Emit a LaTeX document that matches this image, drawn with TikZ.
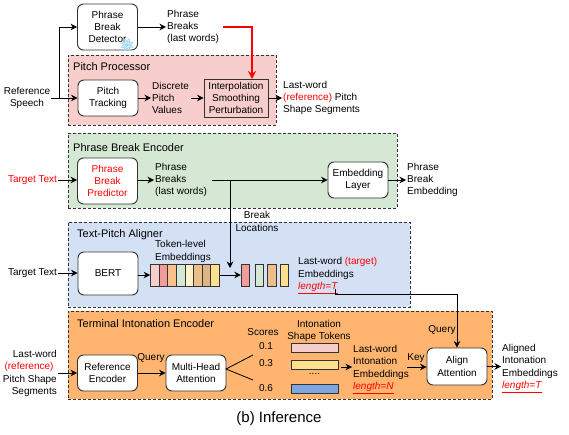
\documentclass[tikz,border=0pt]{standalone}
\usepackage{fontspec}
\setmainfont{Liberation Sans}
\usepackage{xcolor}
\usetikzlibrary{arrows.meta,positioning}
\definecolor{softred}{HTML}{F8CECC}
\definecolor{softgreen}{HTML}{D5E8D4}
\definecolor{softblue}{HTML}{D4E1F5}
\definecolor{softorange}{HTML}{FFB570}
\definecolor{softyellow}{HTML}{FFF2CC}
\definecolor{tokred}{HTML}{F19C99}
\definecolor{tokorange}{HTML}{F9C08C}
\definecolor{tokbrown}{HTML}{EBBE8C}
\definecolor{tokdark}{HTML}{E0B585}
\definecolor{tokyellow}{HTML}{FFE08C}
\definecolor{tokblue}{HTML}{7EA6E0}
\definecolor{frost}{HTML}{A5D8F5}
\definecolor{linegray}{HTML}{333333}
\newcommand{\lenlabel}[1]{\textcolor{red}{\underline{\textit{length=#1}}}}
\tikzset{
  every node/.style={font=\fontsize{10}{12.4}\selectfont},
  panel/.style={draw=linegray, dash pattern=on 3pt off 2pt, line width=.8pt, minimum width=#1, inner sep=0pt},
  blk/.style={draw=linegray, rounded corners=6pt, line width=.9pt, fill=white, align=center, inner sep=0pt, minimum width=60pt},
  sqblk/.style={draw=linegray, line width=.9pt, fill=softred, align=center, inner sep=0pt, minimum width=64pt, minimum height=38pt},
  lbl/.style={align=left, anchor=west, inner sep=1pt},
  ttl/.style={anchor=west, inner sep=0pt, font=\fontsize{11}{13}\selectfont},
  txt/.style={align=center, inner sep=1pt},
  cell/.style={draw=linegray, line width=.7pt, minimum width=8.6pt, minimum height=22pt, inner sep=0pt},
  bar/.style={draw=linegray, line width=.7pt, minimum width=47pt, minimum height=9pt, inner sep=0pt},
  ar/.style={-{Stealth[length=6.5pt,width=6.5pt]}, line width=.8pt, draw=black},
  redar/.style={line width=1.1pt, draw=red, -{Stealth[length=8pt,width=8pt,red]}},
  plainline/.style={line width=.8pt, draw=black},
}
\begin{document}
\begin{tikzpicture}[x=1pt,y=-1pt]
  \useasboundingbox (0,0) rectangle (569,435);
  % panels
  \node[panel=208pt, minimum height=70pt, fill=softred] (pitchpanel) at (172,90) {};
  \node[panel=329pt, minimum height=75pt, fill=softgreen] (breakpanel) at (232.5,170.5) {};
  \node[panel=342pt, minimum height=85pt, fill=softblue] (alignerpanel) at (239,264.5) {};
  \node[panel=424pt, minimum height=88pt, fill=softorange] (terminalpanel) at (280,355) {};
  \node[ttl] (pitchttl) at (73,67) {Pitch Processor};
  \node[ttl] (breakttl) at (73,148) {Phrase Break Encoder};
  \node[ttl] (alignerttl) at (77,235) {Text-Pitch Aligner};
  \node[ttl] (terminalttl) at (77,324) {Terminal Intonation Encoder};

  % top row
  \node[blk, minimum height=46pt] (detector) at (107.5,27) {Phrase\\Break\\Detector};
  \foreach \a in {0,45,...,315}{
    \fill[frost] (127,45) ++(\a:3.6) circle (1.5pt);
    \fill[frost] (127,45) ++(\a+22:5.6) circle (1.2pt);
  }
  \fill[frost] (127,45) circle (2pt);
  \node[lbl] (detectout) at (166,27) {Phrase\\Breaks\\(last words)};
  \node[txt] (speech) at (27,98) {Reference\\Speech};
  \coordinate (speechjoin) at (59,98);
  \node[blk, minimum height=36pt] (tracking) at (108,98) {Pitch\\Tracking};
  \node[lbl] (discrete) at (151,98) {Discrete\\Pitch\\Values};
  \node[sqblk] (interp) at (236,98) {Interpolation\\Smoothing\\Perturbation};
  \node[lbl] (shapes) at (282,98) {Last-word\\\textcolor{red}{(reference)} Pitch\\Shape Segments};
  \coordinate (redstart) at (223,27);
  \coordinate (redend) at (252,79);
  \draw[plainline] (speech.east) -- (speechjoin);
  \draw[ar] (speechjoin) -- (tracking.west);
  \draw[ar] (speechjoin) |- (detector.west);
  \draw[ar] (detector.east) -- (detectout.west);
  \draw[ar] (tracking.east) -- (discrete.west);
  \coordinate (discreteout) at (191,98);
  \draw[ar] (discreteout) -- (interp.west);
  \draw[ar] (interp.east) -- (shapes.west);
  \draw[redar] (redstart) -| (redend);

  % phrase break encoder
  \node[txt, text=red] (targetred) at (32.5,180) {Target Text};
  \node[blk, minimum height=46pt, text=red] (predictor) at (107.5,181) {Phrase\\Break\\Predictor};
  \node[lbl] (breaksout) at (154,180) {Phrase\\Breaks\\(last words)};
  \coordinate (breakstart) at (212,180);
  \coordinate (breakjoin) at (230,180);
  \coordinate (breakend) at (230,268);
  \node[blk, minimum height=36pt] (embedlayer) at (358,180) {Embedding\\Layer};
  \node[lbl] (embedout) at (406,180) {Phrase\\Break\\Embedding};
  \node[txt] (breakloc) at (257,221.5) {Break\\Locations};
  \draw[ar] (targetred.east) -- (predictor.west |- targetred.east);
  \draw[ar] (predictor.east |- breaksout.west) -- (breaksout.west);
  \draw[ar] (breakstart) -- (embedlayer.west);
  \draw[ar] (embedlayer.east) -- (embedout.west);
  \draw[ar] (breakjoin) -- (breakend);

  % text-pitch aligner
  \node[txt] (targetblack) at (32.5,273) {Target Text};
  \node[blk, minimum height=43pt] (bert) at (108,273.5) {BERT};
  \node[lbl] (tokenlbl) at (154,251.5) {Token-level\\Embeddings};
  \foreach \i/\c in {0/softred,1/tokred,2/tokorange,3/softgreen,4/softyellow,5/tokbrown,6/tokdark,7/tokyellow}{
    \node[cell, fill=\c] (tok\i) at ({154.8+8.6*\i},275) {};
  }
  \node[cell, fill=tokred] (pick0) at (245.5,275) {};
  \node[cell, fill=softgreen] (pick1) at (259.5,275) {};
  \node[cell, fill=tokbrown] (pick2) at (272,275) {};
  \node[cell, fill=tokyellow] (pick3) at (284.5,275) {};
  \node[lbl] (lasttarget) at (297,275.5) {Last-word \textcolor{red}{(target)}\\Embeddings\\\lenlabel{T}};
  \coordinate (lenstart) at (335,289);
  \coordinate (lenturn) at (335,294);
  \draw[ar] (targetblack.east) -- (bert.west |- targetblack.east);
  \draw[ar] (bert.east |- tok0.west) -- (tok0.west);
  \draw[ar] (tok7.east) -- (pick0.west);

  % terminal intonation encoder
  \node[align=right, inner sep=1pt, anchor=east] (refshape) at (58,373.5) {Last-word\\\textcolor{red}{(reference)\,\,}\\Pitch Shape\\Segments};
  \node[blk, minimum height=36pt] (refenc) at (107.5,373) {Reference\\Encoder};
  \node[blk, minimum height=36pt] (multihead) at (196,373) {Multi-Head\\Attention};
  \node[txt] (querya) at (151,358) {Query};
  \node[txt] (scores) at (263,332) {Scores};
  \node[txt] (scorea) at (266,346) {0.1};
  \node[txt] (scoreb) at (266,363) {0.3};
  \node[txt] (scorec) at (266,388) {0.6};
  \coordinate (fanapex) at (226,369);
  \coordinate (fanup) at (253,355);
  \coordinate (fandown) at (253,380);
  \node[txt] (tokenttl) at (319,331) {Intonation\\Shape Tokens};
  \node[bar, fill=softred] (bara) at (314.5,347.5) {};
  \node[bar, fill=tokyellow] (barb) at (314.5,364.5) {};
  \node[txt] (bardots) at (314.5,374) {....};
  \node[bar, fill=tokblue] (barc) at (314.5,388.5) {};
  \node[lbl] (lastinto) at (352,369.5) {Last-word\\Intonation\\Embeddings\\\lenlabel{N}};
  \node[txt] (keylbl) at (416,358) {Key};
  \node[txt] (queryb) at (442,330) {Query};
  \coordinate (keystart) at (407,367);
  \node[blk, minimum height=37pt] (alignatt) at (457,366.5) {Align\\Attention};
  \node[lbl] (alignedout) at (501,368.5) {Aligned\\Intonation\\Embeddings\\\lenlabel{T}};
  \coordinate (barout) at (341,367);
  \draw[ar] (refshape.east |- refenc.west) -- (refenc.west);
  \draw[ar] (refenc.east) -- (multihead.west);
  \draw[plainline] (fanup) -- (fanapex) -- (fandown);
  \draw[ar] (barout) -- (lastinto.west |- barout);
  \draw[ar] (keystart) -- (alignatt.west |- keystart);
  \draw[ar] (alignatt.east) -- (alignedout.west |- alignatt.east);
  \draw[ar] (lenstart) -- (lenturn) -| (alignatt.north);

  \node[txt, font=\fontsize{15}{18}\selectfont] (caption) at (279,419) {(b) Inference};
\end{tikzpicture}
\end{document}
